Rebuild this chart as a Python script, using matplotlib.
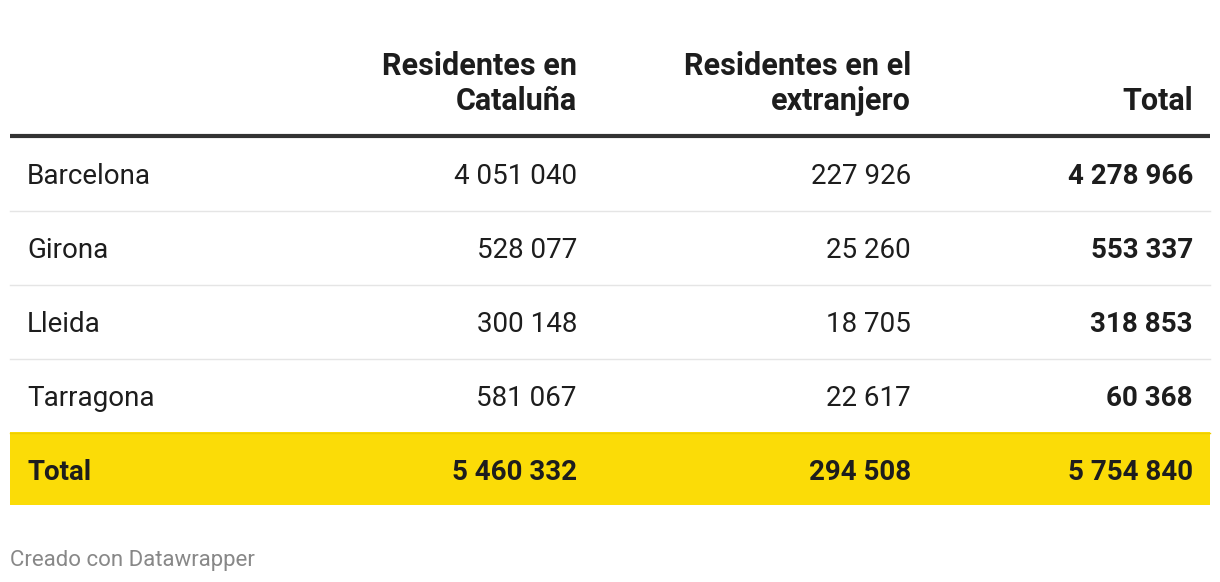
import matplotlib
matplotlib.use('agg')
import matplotlib.pyplot as plt
from matplotlib.patches import Rectangle

# table data
provinces = ["Barcelona", "Girona", "Lleida", "Tarragona"]
in_catalonia = [4051040, 528077, 300148, 581067]
abroad = [227926, 25260, 18705, 22617]
totals = [4278966, 553337, 318853, 60368]
sum_row = ["Total", 5460332, 294508, 5754840]
headers = ["Residentes en\nCataluña", "Residentes en el\nextranjero", "Total"]
footer = "Creado con Datawrapper"


def fmt(n):
    return f"{n:,}".replace(",", " ")


plt.rcParams['font.family'] = ['Roboto', 'DejaVu Sans']

W, H = 1220, 582
fig = plt.figure(figsize=(W / 100, H / 100), dpi=100)
ax = fig.add_axes([0, 0, 1, 1])
ax.set_xlim(0, W)
ax.set_ylim(H, 0)
ax.axis('off')

left, right = 10, 1210
text_x = 27
col_x = [577, 911, 1193]
dark = "#1d1d1d"
size = 20

# header
for x, h in zip(col_x, headers):
    ax.text(x, 110, h, ha='right', va='baseline', fontsize=22,
            fontweight='bold', color=dark, linespacing=1.22)
ax.plot([left, right], [135.5, 135.5], color="#333333", lw=3, solid_capstyle='butt')

# body rows
row_h = 74
y0 = 137
for i, name in enumerate(provinces):
    yc = y0 + row_h * i + row_h / 2
    ax.text(text_x, yc, name, ha='left', va='center_baseline', fontsize=size, color=dark)
    vals = [in_catalonia[i], abroad[i], totals[i]]
    for j, (x, v) in enumerate(zip(col_x, vals)):
        ax.text(x, yc, fmt(v), ha='right', va='center_baseline', fontsize=size,
                color=dark, fontweight='bold' if j == 2 else 'normal')
    if i < len(provinces) - 1:
        yl = y0 + row_h * (i + 1)
        ax.plot([left, right], [yl, yl], color="#e5e5e5", lw=1)

# total row
ty = y0 + row_h * len(provinces) - 1
ax.add_patch(Rectangle((left, ty), right - left, 73, facecolor="#fbdc07", edgecolor='none'))
ax.plot([left, right], [ty + 0.5, ty + 0.5], color="#efcd00", lw=1)
yc = ty + 73 / 2 + 1
ax.text(text_x, yc, sum_row[0], ha='left', va='center_baseline', fontsize=size,
        fontweight='bold', color=dark)
for x, v in zip(col_x, sum_row[1:]):
    ax.text(x, yc, fmt(v), ha='right', va='center_baseline', fontsize=size,
            fontweight='bold', color=dark)

ax.text(left, 558, footer, ha='left', va='center_baseline', fontsize=16, color="#888888")

fig.savefig("out.png", dpi=100)
